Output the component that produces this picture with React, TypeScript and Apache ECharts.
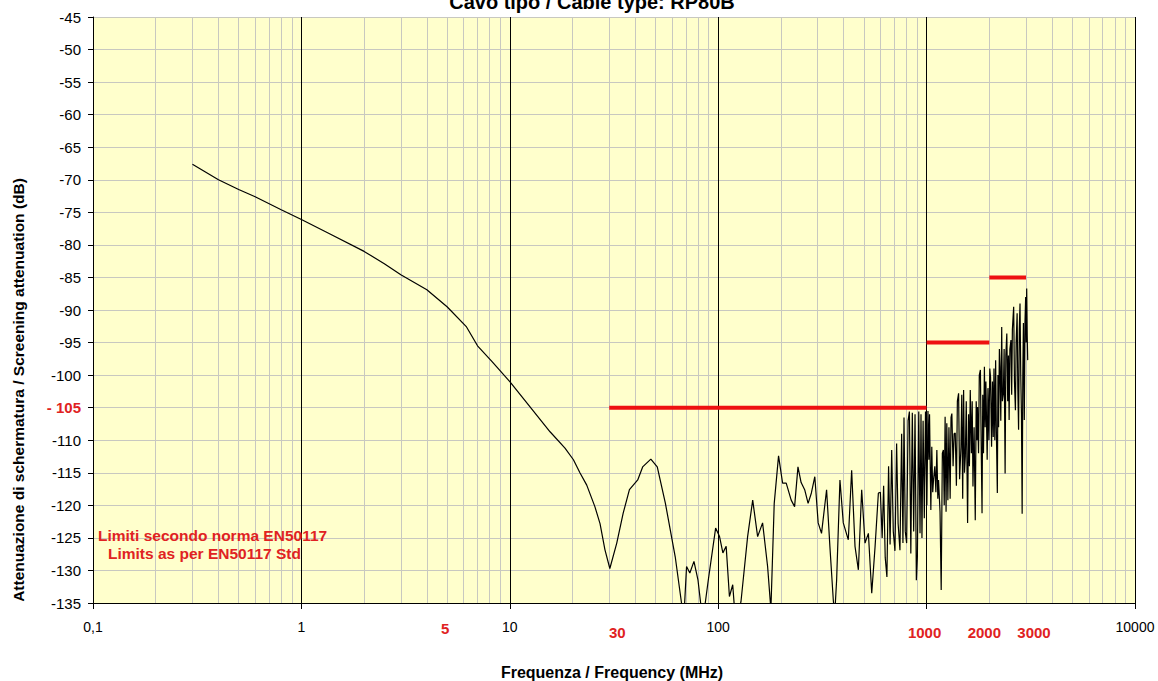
import React, { useEffect, useRef } from "react";
import * as echarts from "echarts";

const chartTitle = "Cavo tipo / Cable type: RP80B";
const yAxisTitle = "Attenuazione di schermatura / Screening attenuation (dB)";
const xAxisTitle = "Frequenza / Frequency (MHz)";
const noteLines = ["Limiti secondo norma EN50117", "Limits as per EN50117 Std"];

// Measured screening attenuation [MHz, dB]
const screeningCurve: [number, number][] = [
  [0.3, -67.6], [0.4, -70.0], [0.5, -71.5], [0.6, -72.6], [0.8, -74.6], [1.0, -76.1],
  [1.35, -78.2], [2.0, -81.0], [2.5, -82.9], [3.0, -84.6], [4.0, -86.9], [5.0, -89.5],
  [6.2, -92.6], [7.0, -95.5], [8.2, -97.9], [10, -101.0], [12.9, -105.4], [15.6, -108.7],
  [18.4, -111.2], [20.2, -113.0], [21.7, -115.0], [23.4, -116.9], [25.6, -120.2],
  [27.1, -122.8], [28.6, -126.8], [30.2, -129.7], [32.6, -125.8], [35.0, -121.2],
  [37.5, -117.6], [41.1, -116.1], [43.4, -114.1], [47.5, -112.9], [51.0, -114.1],
  [55.8, -119.7], [62.2, -127.9], [66.8, -135.2], [68.5, -137], [70.5, -129.4],
  [73.1, -130.4], [76.5, -128.6], [80.0, -131.5], [82.5, -135.2], [84.5, -137],
  [86.5, -135.2], [89.6, -131.5], [97.2, -123.5], [101.5, -124.8], [105.3, -127.3],
  [109.2, -126.3], [113.2, -134.0], [117.4, -132.2], [119.5, -135.5], [124, -137],
  [128.6, -134.8], [138.4, -124.8], [146.4, -119.2], [154.6, -124.8], [163.3, -122.7],
  [172.6, -129.4], [179, -136], [185.7, -119.7], [194.8, -112.4], [203.7, -116.6],
  [212, -116.6], [224, -119.2], [232.6, -120.2], [241.4, -114.1], [250, -116.5],
  [260, -117.6], [270, -119.7], [280, -118.1], [290.8, -115.6], [301.8, -122.7],
  [313.2, -124.3], [331.2, -117.6], [343.5, -126.3], [356.6, -134.5], [362, -137],
  [370, -131.5], [383.9, -116.1], [398.3, -122.7], [421, -125.3], [436.9, -114.6],
  [453.4, -126.3], [470.5, -129.9], [488.1, -117.6], [506.4, -125.8], [525.6, -124.3],
  [545.4, -133.5], [566, -126.3], [587, -118.1],
  [600, -118], [612, -125], [622, -117], [633, -128], [645, -131], [657, -114],
  [668, -126], [680, -111.5], [692, -124], [705, -127], [718, -110.5], [730, -122.8],
  [745, -126.9], [759, -109], [770, -125.8], [779, -106.5], [790, -124], [802, -125.8],
  [815, -107], [827, -105.6], [840, -127.4], [854, -105.8], [867, -124], [880, -106],
  [893, -131.5], [903, -128], [917, -105.6], [930, -124.3], [940, -106], [950, -125],
  [962, -107], [975, -122], [988, -105.6], [1003, -120], [1015, -105.5], [1025, -113],
  [1033, -106], [1048, -120.7], [1059, -111], [1070, -118], [1080, -116], [1095, -114],
  [1108, -118], [1120, -111.5], [1132, -119], [1141, -116.1], [1160, -121], [1175, -133],
  [1190, -112], [1204, -111.5], [1215, -120], [1227, -106.4], [1240, -121], [1250, -107.4],
  [1265, -119.2], [1280, -108], [1297, -119], [1310, -106.5], [1322, -105.9], [1340, -114],
  [1355, -109], [1372, -108.9], [1390, -117], [1405, -104], [1424, -102.8], [1440, -116],
  [1462, -111], [1475, -103], [1490, -119], [1505, -102.3], [1520, -115], [1534, -112.5],
  [1550, -104], [1573, -122.7], [1590, -106], [1605, -114], [1620, -102.3], [1640, -112],
  [1655, -104], [1669, -117.1], [1690, -108], [1712, -122.3], [1730, -104], [1745, -110],
  [1756, -104.9], [1775, -112], [1790, -100], [1812, -99.2], [1830, -112], [1845, -121.2],
  [1860, -103], [1875, -112], [1894, -98.7], [1910, -108], [1925, -101], [1953, -113],
  [1970, -102], [1990, -110], [2010, -99], [2027, -100.3], [2050, -111], [2070, -101],
  [2088, -109.5], [2105, -99], [2125, -110], [2144, -97.7], [2160, -108], [2185, -118.1],
  [2200, -100], [2215, -108], [2235, -96], [2250, -98.7], [2270, -107], [2293, -92.6],
  [2310, -104], [2336, -102.8], [2355, -96], [2381, -115.1], [2400, -97], [2426, -93.6],
  [2450, -104], [2470, -97], [2489, -106.9], [2510, -96], [2540, -94.6], [2560, -103],
  [2580, -93], [2617, -89.5], [2640, -101], [2668, -105.4], [2690, -95], [2719, -90.5],
  [2740, -102], [2763, -108.4], [2785, -93], [2807, -89], [2830, -100], [2852, -105.9],
  [2874, -121.3], [2895, -100], [2915, -92], [2943, -106.9], [2965, -92], [2988, -88],
  [3005, -95], [3022, -86.7], [3040, -94], [3056, -97.7],
];

// EN50117 limits
const limitStartMHz = [30, 1000, 2000];
const limitEndMHz = [1000, 2000, 3000];
const limitLevelDb = [-105, -95, -85];

// extra red frequency labels
const redFreqTicks = [5, 30, 1000, 2000, 3000];

// minor vertical grid lines
const minorGridMHz = [
  0.2, 0.3, 0.4, 0.5, 0.6, 0.7, 0.8, 0.9,
  2, 3, 4, 5, 6, 7, 8, 9,
  20, 30, 40, 50, 60, 70, 80, 90,
  200, 300, 400, 500, 600, 700, 800, 900,
  2000, 3000, 4000, 5000, 6000, 7000, 8000, 9000,
];

const FONT = "Arial, 'Liberation Sans', sans-serif";
const RED_LINE = "#ee1111";
const RED_TEXT = "#e02222";
const GRID_GREY = "#c8c8c0";

// small hand-placement nudges of the red frequency labels (as in the original sheet)
function redLabelNudge(f: number): [number, number] {
  if (f < 10) return [-2, 25];
  if (f < 100) return [8, 29];
  if (f >= 3000) return [8, 29];
  if (f >= 2000) return [-5, 29];
  return [-2, 29];
}

export default function App() {
  const ref = useRef<HTMLDivElement>(null);

  useEffect(() => {
    if (!ref.current) return;
    const chart = echarts.init(ref.current, null, { renderer: "svg" });

    const option: any = {
      animation: false,
      backgroundColor: "#ffffff",
      grid: {
        left: 93,
        right: 23,
        top: 17,
        bottom: 78,
        show: true,
        backgroundColor: "#ffffcc",
        borderWidth: 0,
        containLabel: false,
        outerBoundsMode: "none",
      },
      xAxis: {
        type: "log",
        logBase: 10,
        min: 0.1,
        max: 10000,
        splitNumber: 5,
        axisLine: { show: true, lineStyle: { color: "#000", width: 1 } },
        axisTick: { show: true, length: 6, lineStyle: { color: "#000" } },
        axisLabel: {
          color: "#000",
          fontSize: 14,
          fontFamily: FONT,
          margin: 17,
          showMinLabel: true,
          showMaxLabel: true,
          hideOverlap: false,
          formatter: (v: number) => {
            if (Math.abs(v - 0.1) < 1e-9) return "0,1";
            if (Math.abs(v - 1000) < 1e-6) return "";
            return String(Math.round(v));
          },
        },
        splitLine: { show: true, lineStyle: { color: "#000", width: 1 } },
        minorTick: { show: false },
        minorSplitLine: { show: false },
      },
      yAxis: {
        type: "value",
        min: -135,
        max: -45,
        interval: 5,
        axisLine: { show: true, lineStyle: { color: "#000", width: 1 } },
        axisTick: { show: true, length: 5, lineStyle: { color: "#000" } },
        axisLabel: {
          color: "#000",
          fontSize: 15,
          fontFamily: FONT,
          margin: 12,
          showMinLabel: true,
          showMaxLabel: true,
          formatter: (v: number) => (v === -105 ? "{r|- 105}" : String(v)),
          rich: {
            r: { color: RED_TEXT, fontSize: 15, fontWeight: "bold", fontFamily: FONT },
          },
        },
        splitLine: { show: true, lineStyle: { color: GRID_GREY, width: 1 } },
      },
      series: [
        {
          type: "line",
          name: "minor-grid",
          data: [[1, -135]],
          symbol: "none",
          showSymbol: false,
          lineStyle: { opacity: 0 },
          silent: true,
          z: 1,
          markLine: {
            silent: true,
            z: 1,
            animation: false,
            symbol: ["none", "none"],
            label: { show: false },
            emphasis: { disabled: true },
            lineStyle: { color: GRID_GREY, width: 1, type: "solid" },
            data: minorGridMHz.map((f) => ({ xAxis: f })),
          },
        },
        {
          type: "line",
          name: "screening",
          data: screeningCurve,
          symbol: "none",
          showSymbol: false,
          clip: true,
          silent: true,
          lineStyle: { color: "#000", width: 1.2 },
          z: 10,
        },
        ...limitStartMHz.map((s, i) => ({
          type: "line",
          name: "limit" + i,
          data: [
            [s, limitLevelDb[i]],
            [limitEndMHz[i], limitLevelDb[i]],
          ],
          symbol: "none",
          showSymbol: false,
          silent: true,
          lineStyle: { color: RED_LINE, width: 4 },
          z: 11,
        })),
      ],
    };

    chart.setOption(option);

    const elements: any[] = [];
    redFreqTicks.forEach((f) => {
      const p = chart.convertToPixel({ gridIndex: 0 }, [f, -135]) as number[];
      const [dx, dy] = redLabelNudge(f);
      elements.push({
        type: "text",
        x: p[0] + dx,
        y: p[1] + dy,
        z: 20,
        style: {
          text: String(f),
          fill: RED_TEXT,
          fontSize: 15,
          fontWeight: "bold",
          fontFamily: FONT,
          align: "center",
          verticalAlign: "middle",
        },
      });
    });

    elements.push({
      type: "text",
      x: 592,
      y: 2,
      z: 20,
      style: {
        text: chartTitle,
        fill: "#000",
        fontSize: 20,
        fontWeight: "bold",
        fontFamily: FONT,
        align: "center",
        verticalAlign: "middle",
      },
    });
    elements.push({
      type: "text",
      x: 18,
      y: 390,
      rotation: Math.PI / 2,
      z: 20,
      style: {
        text: yAxisTitle,
        fill: "#000",
        fontSize: 15.5,
        fontWeight: "bold",
        fontFamily: FONT,
        align: "center",
        verticalAlign: "middle",
      },
    });
    elements.push({
      type: "text",
      x: 612,
      y: 672,
      z: 20,
      style: {
        text: xAxisTitle,
        fill: "#000",
        fontSize: 16,
        fontWeight: "bold",
        fontFamily: FONT,
        align: "center",
        verticalAlign: "middle",
      },
    });
    elements.push({
      type: "text",
      x: 98,
      y: 535,
      z: 20,
      style: {
        text: noteLines[0],
        fill: RED_TEXT,
        fontSize: 15.5,
        fontWeight: "bold",
        fontFamily: FONT,
        align: "left",
        verticalAlign: "middle",
      },
    });
    elements.push({
      type: "text",
      x: 108,
      y: 553,
      z: 20,
      style: {
        text: noteLines[1],
        fill: RED_TEXT,
        fontSize: 15.5,
        fontWeight: "bold",
        fontFamily: FONT,
        align: "left",
        verticalAlign: "middle",
      },
    });

    chart.setOption({ graphic: { elements } });

    return () => {
      chart.dispose();
    };
  }, []);

  return (
    <div
      ref={ref}
      style={{ position: "fixed", left: 0, top: 0, width: 1158, height: 681 }}
    />
  );
}
